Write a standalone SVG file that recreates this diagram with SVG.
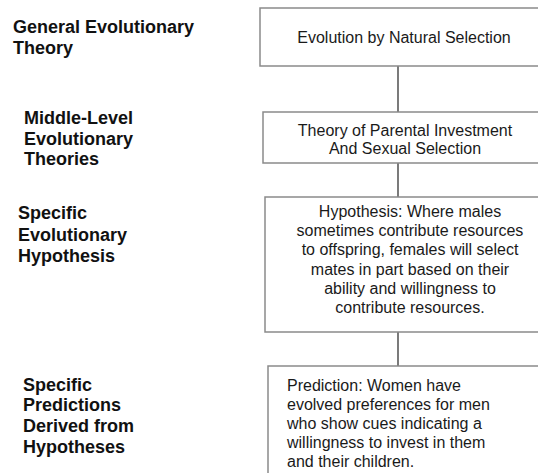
<svg xmlns="http://www.w3.org/2000/svg" width="538" height="473" viewBox="0 0 538 473">
<style>
.lbl{font-family:"Liberation Sans",Arial,sans-serif;font-weight:bold;font-size:18px;fill:#111}
.box{fill:#fff;stroke:#8a8a8a;stroke-width:1.5}
.txt{font-family:"Liberation Sans",Arial,sans-serif;font-size:16px;fill:#1a1a1a}
.mid{text-anchor:middle}
.conn{stroke:#333;stroke-width:1.3;fill:none}
</style>
<rect width="538" height="473" fill="#fff"/>
<g id="labels">
<text class="lbl" x="13" y="33">General Evolutionary<tspan x="13" y="54">Theory</tspan></text>
<text class="lbl" x="24" y="124">Middle-Level<tspan x="24" y="145">Evolutionary</tspan><tspan x="24" y="165">Theories</tspan></text>
<text class="lbl" x="18" y="219">Specific<tspan x="18" y="241">Evolutionary</tspan><tspan x="18" y="262">Hypothesis</tspan></text>
<text class="lbl" x="23" y="391">Specific<tspan x="23" y="411">Predictions</tspan><tspan x="23" y="432">Derived from</tspan><tspan x="23" y="453">Hypotheses</tspan></text>
</g>
<g id="connectors">
<line class="conn" x1="398" y1="66" x2="398" y2="112"/>
<line class="conn" x1="398" y1="163" x2="398" y2="197"/>
<line class="conn" x1="398" y1="332" x2="398" y2="366"/>
</g>
<g id="n1">
<rect class="box" x="260" y="8" width="290" height="58"/>
<text class="txt mid" x="404" y="43">Evolution by Natural Selection</text>
</g>
<g id="n2">
<rect class="box" x="263" y="112" width="290" height="51"/>
<text class="txt mid" x="405" y="136">Theory of Parental Investment<tspan x="405" y="154">And Sexual Selection</tspan></text>
</g>
<g id="n3">
<rect class="box" x="265" y="197" width="290" height="135"/>
<text class="txt mid" x="410" y="217">Hypothesis: Where males<tspan x="410" y="236">sometimes contribute resources</tspan><tspan x="410" y="255">to offspring, females will select</tspan><tspan x="410" y="275">mates in part based on their</tspan><tspan x="410" y="294">ability and willingness to</tspan><tspan x="410" y="313">contribute resources.</tspan></text>
</g>
<g id="n4">
<rect class="box" x="268" y="366" width="290" height="120"/>
<text class="txt" x="287" y="391">Prediction: Women have<tspan x="287" y="410">evolved preferences for men</tspan><tspan x="287" y="429">who show cues indicating a</tspan><tspan x="287" y="448">willingness to invest in them</tspan><tspan x="287" y="467">and their children.</tspan></text>
</g>
</svg>
